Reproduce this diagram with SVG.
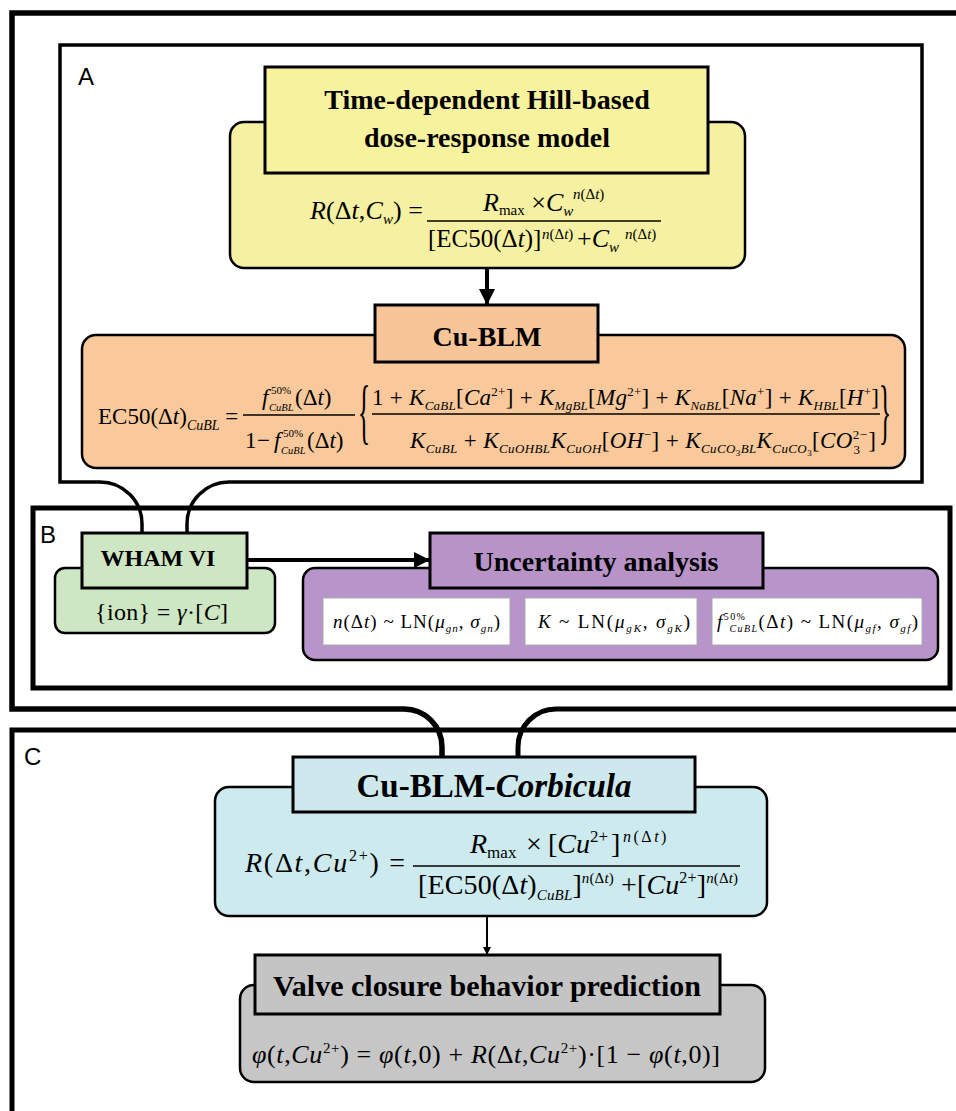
<svg xmlns="http://www.w3.org/2000/svg" width="956" height="1111" viewBox="0 0 956 1111">
<defs>
<marker id="ah" viewBox="0 0 10 10" refX="10" refY="5" markerWidth="4" markerHeight="4" orient="auto" markerUnits="strokeWidth"><path d="M0,0 L10,5 L0,10 z" fill="#000"/></marker>
</defs>
<style>
.frame{fill:none;stroke:#000}
.title{stroke:#000;stroke-width:3}
.box{stroke:#000;stroke-width:2.5}
.wbox{fill:#fff;stroke:#aaa;stroke-width:1}
.t{font-family:"Liberation Serif","Times New Roman",serif;font-weight:bold;text-anchor:middle;fill:#000}
.f{font-family:"Liberation Serif","Times New Roman",serif;fill:#000}
.i{font-style:italic}
.lbl{font-family:"Liberation Sans",Arial,sans-serif;font-size:24px;fill:#000}
.bar{stroke:#000;stroke-width:1.3}
.conn{stroke:#000;fill:none;marker-end:url(#ah)}
</style>
<rect width="956" height="1111" fill="#fff"/>

<g id="panels">
<path class="frame" stroke-width="5.5" d="M442,757 V747 A38,38 0 0 0 404,709 H12 V13 H956"/>
<path class="frame" stroke-width="5" d="M956,709 H556 A38,38 0 0 0 518,747 V757"/>
<path class="frame" stroke-width="3.5" d="M142,533 V524 A42,42 0 0 0 100,482 H60 V45 H922 V482 H229 A42,42 0 0 0 187,524 V533"/>
<rect class="frame" stroke-width="5" x="33" y="508" width="917" height="180"/>
<path class="frame" stroke-width="5" d="M12,1111 V730 H956"/>
<text class="lbl" x="78" y="85">A</text>
<text class="lbl" x="40" y="543">B</text>
<text class="lbl" x="24" y="765">C</text>
</g>

<g id="connectors">
<line class="conn" stroke-width="4" x1="487" y1="268" x2="487" y2="305"/>
<line class="conn" stroke-width="4" x1="247" y1="560" x2="430" y2="560"/>
<line class="conn" stroke-width="2" x1="487" y1="916" x2="487" y2="955"/>
</g>

<g id="hill-model">
<rect class="box" x="230" y="122" width="515" height="146" rx="14" fill="#f6f1a2"/>
<rect class="title" x="265" y="67" width="443" height="106" fill="#f7f29e"/>
<text class="t" font-size="28" x="487" y="109">Time-dependent Hill-based</text>
<text class="t" font-size="28" x="487" y="147">dose-response model</text>
<text class="f" font-size="26" x="310" y="219" textLength="113" lengthAdjust="spacing"><tspan class="i">R</tspan>(Δ<tspan class="i">t</tspan>,<tspan class="i">C</tspan><tspan class="i" font-size="15" dy="5">w</tspan><tspan dy="-5">) =</tspan></text>
<text class="f" font-size="26" y="211"><tspan x="483" class="i">R</tspan><tspan font-size="15" dy="4">max</tspan><tspan dy="-4"> ×</tspan><tspan class="i">C</tspan><tspan class="i" font-size="15" dy="5">w</tspan><tspan x="573" dy="-17" font-size="15"><tspan class="i">n</tspan>(Δ<tspan class="i">t</tspan>)</tspan></text>
<line class="bar" x1="427" y1="221" x2="661" y2="221"/>
<text class="f" font-size="26" y="247"><tspan x="428" font-size="25">[EC50(Δ<tspan class="i">t</tspan>)]</tspan><tspan x="542" dy="-8" font-size="15"><tspan class="i">n</tspan>(Δ<tspan class="i">t</tspan>)</tspan><tspan x="577" dy="8">+</tspan><tspan class="i">C</tspan><tspan class="i" font-size="15" dy="5">w</tspan><tspan x="625" dy="-13" font-size="15"><tspan class="i">n</tspan>(Δ<tspan class="i">t</tspan>)</tspan></text>
</g>

<g id="cu-blm">
<rect class="box" x="82" y="335" width="823" height="133" rx="14" fill="#f9c99c"/>
<rect class="title" x="375" y="305" width="223" height="57" fill="#f8c598"/>
<text class="t" font-size="28" x="487" y="346">Cu-BLM</text>
<text class="f" font-size="23" x="98" y="424">EC50(Δ<tspan class="i">t</tspan>)<tspan class="i" font-size="14" dy="6">CuBL</tspan><tspan dy="-6"> =</tspan></text>
<text class="f" font-size="23" y="405"><tspan x="262" class="i">f</tspan><tspan x="271" dy="-11" font-size="11">50%</tspan><tspan x="269" dy="17" class="i" font-size="10.5">CuBL</tspan><tspan x="295" dy="-6">(Δ<tspan class="i">t</tspan>)</tspan></text>
<line class="bar" x1="243" y1="415" x2="355" y2="415"/>
<text class="f" font-size="23" y="448"><tspan x="245">1</tspan><tspan x="257">−</tspan><tspan x="274" class="i">f</tspan><tspan x="283" dy="-11" font-size="11">50%</tspan><tspan x="281" dy="17" class="i" font-size="10.5">CuBL</tspan><tspan x="307" dy="-6">(Δ<tspan class="i">t</tspan>)</tspan></text>
<text class="f" font-size="36" transform="translate(358,435) scale(0.7,2)">{</text>
<text class="f" font-size="36" transform="translate(879,435) scale(0.7,2)">}</text>
<text class="f" font-size="23" x="372" y="405" textLength="507" lengthAdjust="spacing">1 + <tspan class="i">K</tspan><tspan class="i" font-size="13" dy="5">CaBL</tspan><tspan dy="-5">[</tspan><tspan class="i">Ca</tspan><tspan font-size="13" dy="-9">2+</tspan><tspan dy="9">] + </tspan><tspan class="i">K</tspan><tspan class="i" font-size="13" dy="5">MgBL</tspan><tspan dy="-5">[</tspan><tspan class="i">Mg</tspan><tspan font-size="13" dy="-9">2+</tspan><tspan dy="9">] + </tspan><tspan class="i">K</tspan><tspan class="i" font-size="13" dy="5">NaBL</tspan><tspan dy="-5">[</tspan><tspan class="i">Na</tspan><tspan font-size="13" dy="-9">+</tspan><tspan dy="9">] + </tspan><tspan class="i">K</tspan><tspan class="i" font-size="13" dy="5">HBL</tspan><tspan dy="-5">[</tspan><tspan class="i">H</tspan><tspan font-size="13" dy="-9">+</tspan><tspan dy="9">]</tspan></text>
<line class="bar" x1="372" y1="414" x2="880" y2="414"/>
<text class="f" font-size="23" x="410" y="448" textLength="466" lengthAdjust="spacing"><tspan class="i">K</tspan><tspan class="i" font-size="13" dy="5">CuBL</tspan><tspan dy="-5"> + </tspan><tspan class="i">K</tspan><tspan class="i" font-size="13" dy="5">CuOHBL</tspan><tspan class="i" dy="-5">K</tspan><tspan class="i" font-size="13" dy="5">CuOH</tspan><tspan dy="-5">[</tspan><tspan class="i">OH</tspan><tspan font-size="13" dy="-9">−</tspan><tspan dy="9">] + </tspan><tspan class="i">K</tspan><tspan class="i" font-size="13" dy="5">CuCO</tspan><tspan font-size="9" dy="3">3</tspan><tspan class="i" font-size="13" dy="-3">BL</tspan><tspan class="i" dy="-5">K</tspan><tspan class="i" font-size="13" dy="5">CuCO</tspan><tspan font-size="9" dy="3">3</tspan><tspan dy="-8">[</tspan><tspan class="i">CO</tspan><tspan font-size="13" dy="-9">2−</tspan><tspan font-size="13" dx="-14" dy="15">3</tspan><tspan dy="-6" dx="8">]</tspan></text>
</g>

<g id="wham">
<rect class="box" x="55" y="568" width="220" height="65" rx="10" fill="#cde6c3"/>
<rect class="title" x="82" y="533" width="165" height="55" fill="#cfe6c4"/>
<text class="t" font-size="24" x="158" y="566">WHAM VI</text>
<text class="f" font-size="24" x="95" y="620" textLength="133" lengthAdjust="spacing">{ion} = <tspan class="i">γ</tspan>·[<tspan class="i">C</tspan>]</text>
</g>

<g id="uncertainty">
<rect class="box" x="303" y="568" width="635" height="92" rx="12" fill="#b794c9"/>
<rect class="title" x="430" y="533" width="333" height="55" fill="#b793c8"/>
<text class="t" font-size="28" x="596" y="571">Uncertainty analysis</text>
<rect class="wbox" x="323" y="598" width="187" height="47"/>
<rect class="wbox" x="525" y="598" width="172" height="47"/>
<rect class="wbox" x="712" y="598" width="210" height="47"/>
<text class="f" font-size="19" x="333" y="628" textLength="167" lengthAdjust="spacing"><tspan class="i">n</tspan>(Δ<tspan class="i">t</tspan>) ~ LN(<tspan class="i">μ</tspan><tspan class="i" font-size="11" dy="4">gn</tspan><tspan dy="-4">, </tspan><tspan class="i">σ</tspan><tspan class="i" font-size="11" dy="4">gn</tspan><tspan dy="-4">)</tspan></text>
<text class="f" font-size="19" x="538" y="628" textLength="152" lengthAdjust="spacing"><tspan class="i">K</tspan> ~ LN(<tspan class="i">μ</tspan><tspan class="i" font-size="11" dy="4">gK</tspan><tspan dy="-4">, </tspan><tspan class="i">σ</tspan><tspan class="i" font-size="11" dy="4">gK</tspan><tspan dy="-4">)</tspan></text>
<text class="f" font-size="19" x="717" y="628" textLength="201" lengthAdjust="spacing"><tspan class="i">f</tspan><tspan font-size="10" dy="-8">50%</tspan><tspan class="i" font-size="10" dx="-17" dy="12">CuBL</tspan><tspan dy="-4">(Δ</tspan><tspan class="i">t</tspan>) ~ LN(<tspan class="i">μ</tspan><tspan class="i" font-size="11" dy="4">gf</tspan><tspan dy="-4">, </tspan><tspan class="i">σ</tspan><tspan class="i" font-size="11" dy="4">gf</tspan><tspan dy="-4">)</tspan></text>
</g>

<g id="cu-blm-corbicula">
<rect class="box" x="215" y="787" width="552" height="129" rx="14" fill="#cdeaee"/>
<rect class="title" x="293" y="757" width="402" height="55" fill="#cde9ed"/>
<text class="t" font-size="33" x="494" y="797">Cu-BLM-<tspan font-style="italic">Corbicula</tspan></text>
<text class="f" font-size="28" x="245" y="872" textLength="160" lengthAdjust="spacing"><tspan class="i">R</tspan>(Δ<tspan class="i">t</tspan>,<tspan class="i">Cu</tspan><tspan font-size="16" dy="-11">2+</tspan><tspan dy="11">) =</tspan></text>
<text class="f" font-size="28" y="853"><tspan x="470" class="i">R</tspan><tspan font-size="17" dy="5">max</tspan><tspan x="526" dy="-5">×</tspan><tspan x="548">[</tspan><tspan class="i">Cu</tspan><tspan font-size="17" dy="-11">2+</tspan><tspan x="611" dy="11">]</tspan><tspan x="623" font-size="16" dy="-11" letter-spacing="2.5"><tspan class="i">n</tspan>(Δ<tspan class="i">t</tspan>)</tspan></text>
<line class="bar" x1="413" y1="866" x2="740" y2="866"/>
<text class="f" font-size="28" x="418" y="894" textLength="320" lengthAdjust="spacing">[EC50(Δ<tspan class="i">t</tspan>)<tspan class="i" font-size="15" dy="6">CuBL</tspan><tspan dy="-6">]</tspan><tspan font-size="15" dy="-11"><tspan class="i">n</tspan>(Δ<tspan class="i">t</tspan>)</tspan><tspan dy="11"> +[</tspan><tspan class="i">Cu</tspan><tspan font-size="16" dy="-11">2+</tspan><tspan dy="11">]</tspan><tspan font-size="15" dy="-11"><tspan class="i">n</tspan>(Δ<tspan class="i">t</tspan>)</tspan></text>
</g>

<g id="valve-closure">
<rect class="box" x="240" y="985" width="525" height="97" rx="14" fill="#c6c6c6"/>
<rect class="title" x="255" y="955" width="465" height="59" fill="#c4c4c4"/>
<text class="t" font-size="30" x="487" y="996">Valve closure behavior prediction</text>
<text class="f" font-size="26" x="252" y="1063" textLength="468" lengthAdjust="spacing"><tspan class="i">φ</tspan>(<tspan class="i">t</tspan>,<tspan class="i">Cu</tspan><tspan font-size="15" dy="-10">2+</tspan><tspan dy="10">) = </tspan><tspan class="i">φ</tspan>(<tspan class="i">t</tspan>,0) + <tspan class="i">R</tspan>(Δ<tspan class="i">t</tspan>,<tspan class="i">Cu</tspan><tspan font-size="15" dy="-10">2+</tspan><tspan dy="10">)·[1 − </tspan><tspan class="i">φ</tspan>(<tspan class="i">t</tspan>,0)]</text>
</g>
</svg>
